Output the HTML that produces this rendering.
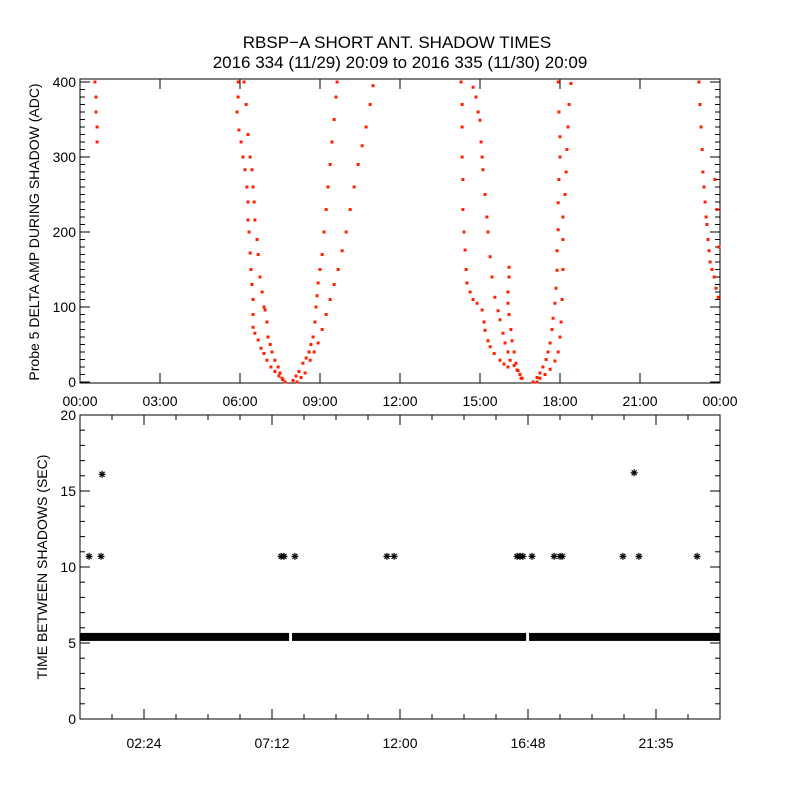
<!DOCTYPE html>
<html><head><meta charset="utf-8"><style>
body{margin:0;background:#fff;}
svg{display:block;font-family:"Liberation Sans",sans-serif;}
</style></head><body>
<svg id="chart" width="800" height="800" viewBox="0 0 800 800" xmlns="http://www.w3.org/2000/svg">
<rect width="800" height="800" fill="#fff"/>
<text x="397" y="48" font-size="17" text-anchor="middle">RBSP−A SHORT ANT. SHADOW TIMES</text>
<text x="400" y="68" font-size="17" text-anchor="middle">2016 334 (11/29) 20:09 to 2016 335 (11/30) 20:09</text>
<text transform="translate(39,232) rotate(-90)" font-size="14" text-anchor="middle">Probe 5 DELTA AMP DURING SHADOW (ADC)</text>
<text transform="translate(47,567) rotate(-90)" font-size="14" text-anchor="middle">TIME BETWEEN SHADOWS (SEC)</text>
<g id="topPanel"></g>
<g id="botPanel"></g>
</svg>
<script>
// ---- top panel data: [hour, ADC value] ----
const edgeLeft=[[0.56,400],[0.60,380],[0.60,360],[0.64,340],[0.64,320]];
const descA1=[[5.93,400],[5.93,380],[5.89,360],[5.96,336],[6.04,320],[6.11,300],[6.19,283],[6.26,260],[6.30,240],[6.30,216],[6.34,200],[6.38,172],[6.41,150],[6.45,130],[6.49,110],[6.49,90],[6.49,73],[6.56,65],[6.68,56],[6.79,45],[6.90,38],[7.01,29],[7.16,20],[7.31,14],[7.46,8],[7.61,3]];
const descA2=[[6.15,400],[6.23,370],[6.30,330],[6.38,300],[6.45,283],[6.49,260],[6.53,240],[6.56,216],[6.64,190],[6.68,170],[6.75,140],[6.83,120],[6.90,100],[6.94,96],[7.01,80],[7.05,60],[7.13,50],[7.20,40],[7.31,29],[7.43,20],[7.50,12],[7.58,5],[7.69,0]];
const riseB1=[[7.99,2],[8.10,8],[8.21,14],[8.36,25],[8.48,32],[8.59,40],[8.66,50],[8.74,60],[8.81,80],[8.85,100],[8.89,115],[8.93,132],[9.00,150],[9.08,170],[9.15,200],[9.23,230],[9.30,260],[9.38,290],[9.45,320],[9.53,350],[9.60,380],[9.64,400]];
const riseB2=[[8.14,0],[8.29,6],[8.44,12],[8.63,29],[8.78,40],[8.93,52],[9.08,70],[9.23,90],[9.38,110],[9.53,130],[9.68,150],[9.83,175],[9.98,200],[10.13,230],[10.28,260],[10.43,290],[10.58,315],[10.73,340],[10.88,370],[10.99,395]];
const descC1=[[14.29,400],[14.33,370],[14.33,340],[14.33,300],[14.36,270],[14.36,230],[14.40,200],[14.44,176],[14.48,150],[14.51,132],[14.63,120],[14.74,110],[14.89,105],[15.08,96],[15.15,80],[15.19,69],[15.30,55],[15.38,47],[15.53,38],[15.75,29],[15.90,24],[16.05,20]];
const descC2=[[14.74,393],[14.85,380],[14.93,360],[15.00,349],[15.04,320],[15.08,300],[15.11,283],[15.19,250],[15.26,220],[15.30,200],[15.38,167],[15.45,140],[15.56,113],[15.68,95],[15.75,83],[15.86,65],[15.94,52],[16.05,40],[16.13,29],[16.28,22],[16.39,16],[16.50,10],[16.58,5]];
const spikeC=[[16.09,153],[16.09,140],[16.05,120],[16.05,105],[16.09,90],[16.16,70],[16.20,55],[16.28,40],[16.35,25],[16.43,15],[16.54,5]];
const riseD1=[[16.99,0],[17.14,6],[17.25,12],[17.36,20],[17.48,30],[17.55,40],[17.63,52],[17.70,70],[17.74,85],[17.81,105],[17.85,125],[17.89,149],[17.89,175],[17.93,203],[17.93,239],[17.96,270],[18.00,300],[18.00,327],[17.96,360],[17.93,400]];
const riseD2=[[17.14,0],[17.25,5],[17.44,10],[17.63,17],[17.81,28],[17.93,40],[18.00,60],[18.04,80],[18.08,110],[18.11,150],[18.11,190],[18.11,220],[18.19,250],[18.23,280],[18.26,310],[18.30,340],[18.34,370],[18.41,398]];
const edgeRight=[[23.21,400],[23.25,370],[23.29,340],[23.33,310],[23.36,280],[23.40,260],[23.44,240],[23.48,220],[23.51,210],[23.55,190],[23.59,175],[23.63,160],[23.70,150],[23.78,140],[23.85,125],[23.93,113],[23.89,230],[23.81,270],[23.96,180]];
const topXTicks=["00:00","03:00","06:00","09:00","12:00","15:00","18:00","21:00","00:00"];
const topYTicks=[0,100,200,300,400];

// ---- bottom panel data ----
const bandStart=[0,7.95,16.84];
const bandEnd=[7.84,16.73,24];
const bandValue=[5.4,5.4,5.4];
const outlierHours=[0.34,0.79,0.83,7.54,7.65,8.06,11.51,11.78,16.39,16.5,16.61,16.95,17.78,18.0,18.08,20.36,20.78,20.96,23.14];
const outlierValues=[10.7,10.7,16.1,10.7,10.7,10.7,10.7,10.7,10.7,10.7,10.7,10.7,10.7,10.7,10.7,10.7,16.2,10.7,10.7];
const botXTicks=["02:24","07:12","12:00","16:48","21:35"];
const botYTicks=[0,5,10,15,20];

const NS="http://www.w3.org/2000/svg";
function mk(p,t,a){const e=document.createElementNS(NS,t);for(const k in a)e.setAttribute(k,a[k]);p.appendChild(e);return e;}
const PL=80,PR=720;
const xs=h=>PL+(h/24)*(PR-PL);
const ty=v=>382-v*0.75;
const by=v=>719-v*15.2;

// top frame
const topG=document.getElementById('topPanel');
const tf=mk(topG,'rect',{x:PL,y:79,width:PR-PL,height:304,fill:'none',stroke:'#000','stroke-width':1});


topXTicks.forEach((t,i)=>{const x=xs(i*3);
 mk(topG,'line',{x1:x,y1:383,x2:x,y2:373,stroke:'#000'});mk(topG,'line',{x1:x,y1:79,x2:x,y2:89,stroke:'#000'});
 const tx=mk(topG,'text',{x:x,y:406,'font-size':14,'text-anchor':'middle'});tx.textContent=t;
 
 });
for(let v=0;v<=400;v+=10){const y=ty(v);const len=v%100===0?10:5;
 mk(topG,'line',{x1:PL,y1:y,x2:PL+len,y2:y,stroke:'#000'});mk(topG,'line',{x1:PR,y1:y,x2:PR-len,y2:y,stroke:'#000'});}
topYTicks.forEach(v=>{const tx=mk(topG,'text',{x:PL-4,y:ty(v)+5,'font-size':14,'text-anchor':'end'});tx.textContent=v;
 
 });
const series=[edgeLeft,descA1,descA2,riseB1,riseB2,descC1,descC2,spikeC,riseD1,riseD2,edgeRight];
series.forEach(s=>s.forEach(p=>{const r=mk(topG,'rect',{x:xs(p[0])-1.5,y:ty(p[1])-1.5,width:3,height:3,fill:'#ff2000'});
 
 }));

// bottom frame
const botG=document.getElementById('botPanel');
const bf=mk(botG,'rect',{x:PL,y:415,width:PR-PL,height:304,fill:'none',stroke:'#000'});


for(let i=0;i<=20;i++){const x=xs(i*1.2);const len=i%4===2?10:5;
 mk(botG,'line',{x1:x,y1:719,x2:x,y2:719-len,stroke:'#000'});mk(botG,'line',{x1:x,y1:415,x2:x,y2:415+len,stroke:'#000'});}
botXTicks.forEach((t,i)=>{const tx=mk(botG,'text',{x:xs(2.4+i*4.8),y:748,'font-size':14,'text-anchor':'middle'});tx.textContent=t;
 
 });
for(let v=0;v<=20;v++){const y=by(v);const len=v%5===0?10:5;
 mk(botG,'line',{x1:PL,y1:y,x2:PL+len,y2:y,stroke:'#000'});mk(botG,'line',{x1:PR,y1:y,x2:PR-len,y2:y,stroke:'#000'});}
botYTicks.forEach(v=>{const tx=mk(botG,'text',{x:PL-4,y:by(v)+5,'font-size':14,'text-anchor':'end'});tx.textContent=v;
 
 });
bandStart.forEach((s,i)=>{const r=mk(botG,'rect',{x:xs(s),y:by(bandValue[i])-4,width:xs(bandEnd[i])-xs(s),height:8,fill:'#000'});
 
 });
outlierHours.forEach((h,i)=>{const cx=xs(h),cy=by(outlierValues[i]);
 const g=mk(botG,'g',{stroke:'#000','stroke-width':1.2});
 
 
 mk(g,'line',{x1:cx-3.5,y1:cy,x2:cx+3.5,y2:cy});mk(g,'line',{x1:cx,y1:cy-3.5,x2:cx,y2:cy+3.5});
 mk(g,'line',{x1:cx-2.5,y1:cy-2.5,x2:cx+2.5,y2:cy+2.5});mk(g,'line',{x1:cx-2.5,y1:cy+2.5,x2:cx+2.5,y2:cy-2.5});});
</script>
</body></html>
